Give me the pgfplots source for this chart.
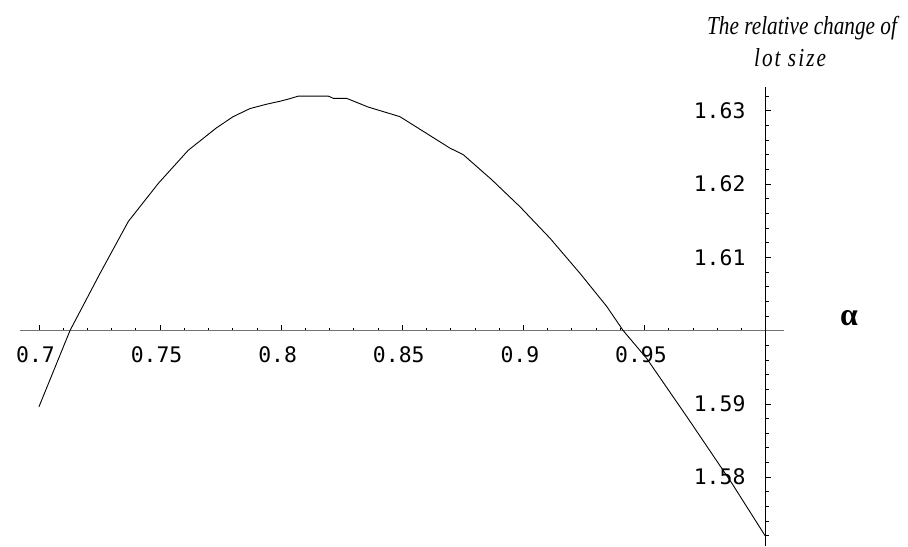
\documentclass[border=0pt]{standalone}
\usepackage{pgfplots}
\pgfplotsset{compat=1.18}
\usepackage{fontspec}
\setmainfont{Liberation Serif}
\newfontfamily\tickfont{DejaVu Sans Mono}
\newfontfamily\titlefont[FakeStretch=0.82]{Liberation Serif}

\begin{document}
\begin{tikzpicture}[x=1bp,y=1bp]
\begin{axis}[
  at={(19.6bp,1bp)}, anchor=south west,
  scale only axis, width=764.4bp, height=459.4bp,
  % shift the data so that the axes cross at alpha = 1, value = 1.6
  x coord trafo/.code={\pgfmathparse{#1-1}},
  x coord inv trafo/.code={\pgfmathparse{#1+1}},
  y coord trafo/.code={\pgfmathparse{#1-1.6}},
  y coord inv trafo/.code={\pgfmathparse{#1+1.6}},
  xmin=0.692, xmax=1.0076,
  ymin=1.5706, ymax=1.6333,
  scaled x ticks=false, scaled y ticks=false,
  axis lines=middle,
  axis line style={-},
  x axis line style={black!55, line width=1.1bp},
  y axis line style={black, line width=0.9bp},
  tick align=inside,
  xtick={0.7,0.75,0.8,0.85,0.9,0.95},
  xticklabels={0.7,0.75,0.8,0.85,0.9,0.95},
  minor xtick={0.71,0.72,0.73,0.74,0.76,0.77,0.78,0.79,0.81,0.82,0.83,0.84,
               0.86,0.87,0.88,0.89,0.91,0.92,0.93,0.94,0.96,0.97,0.98,0.99},
  ytick={1.58,1.59,1.61,1.62,1.63},
  yticklabels={1.58,1.59,1.61,1.62,1.63},
  minor ytick={1.572,1.574,1.576,1.578,1.582,1.584,1.586,1.588,1.592,1.594,1.596,1.598,
               1.602,1.604,1.606,1.608,1.612,1.614,1.616,1.618,1.622,1.624,1.626,1.628,1.632},
  x tick style={black, line width=0.8bp},
  y tick style={black, line width=0.8bp},
  major tick length=5.5bp, minor tick length=3bp,
  xticklabel style={font=\tickfont\fontsize{21.5}{21.5}\selectfont,
    anchor=north, inner sep=0pt, yshift=-16.3bp, xshift=-3.5bp},
  yticklabel style={font=\tickfont\fontsize{21.5}{21.5}\selectfont,
    anchor=east, inner sep=0pt, xshift=-20bp},
  xlabel={α},
  every axis x label/.style={at={(axis description cs:1.085,0.496)}, anchor=center,
    font=\bfseries\fontsize{32}{32}\selectfont},
  ylabel={The relative change of\\{\addfontfeature{LetterSpace=8}lot size}\hspace*{24bp}},
  every axis y label/.style={at={(axis description cs:1.0236,1.0982)}, anchor=center,
    align=center, font=\titlefont\itshape\fontsize{26}{32}\selectfont},
  clip=false,
]
\addplot[black, line width=0.9bp] coordinates {
  (0.7000,1.5896) (0.7128,1.6000) (0.7252,1.6078) (0.7369,1.6149)
  (0.7493,1.6201) (0.7616,1.6246) (0.7734,1.6277) (0.7802,1.6292)
  (0.7871,1.6303) (0.7940,1.6309) (0.7995,1.6313) (0.8030,1.6316)
  (0.8071,1.6320) (0.8195,1.6320) (0.8215,1.6317) (0.8270,1.6317)
  (0.8360,1.6305) (0.8490,1.6292) (0.8697,1.6249) (0.8752,1.6240)
  (0.8869,1.6206) (0.8986,1.6169) (0.9110,1.6126) (0.9234,1.6078)
  (0.9344,1.6033) (0.9412,1.6000) (0.9509,1.5962) (0.9680,1.5880)
  (0.9729,1.5856) (0.9860,1.5792) (1.0000,1.5719)
};
\end{axis}
\pgfresetboundingbox
\path[use as bounding box] (0,0) rectangle (908bp,547bp);
\end{tikzpicture}
\end{document}
